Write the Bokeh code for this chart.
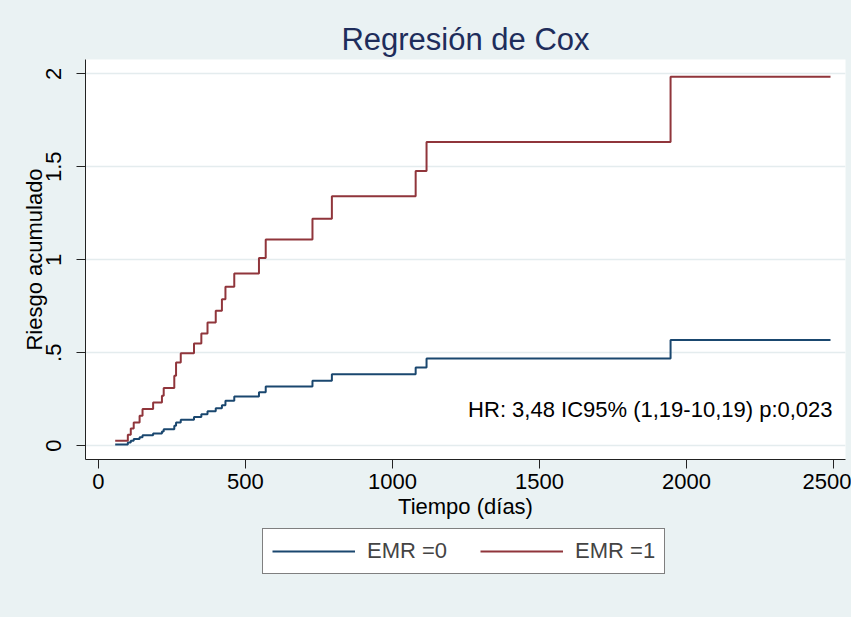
from bokeh.plotting import figure
from bokeh.layouts import column
from bokeh.models import (Range1d, FixedTicker, Legend, LegendItem, Label)
from bokeh.embed import file_html
from bokeh.resources import INLINE

# ---- data ----
event_times = [57, 100, 110, 120, 140, 150, 186, 216, 222, 258, 264, 280, 325, 350,
               371, 399, 420, 432, 462, 546, 569, 728, 794, 1079, 1116, 1946]
end_time = 2490
risk_emr0 = [0.007, 0.017, 0.027, 0.036, 0.046, 0.057, 0.066, 0.076, 0.088, 0.108,
             0.125, 0.140, 0.154, 0.170, 0.186, 0.201, 0.218, 0.242, 0.265, 0.287,
             0.319, 0.349, 0.385, 0.421, 0.469, 0.568]
risk_emr1 = [0.027, 0.059, 0.093, 0.125, 0.161, 0.197, 0.233, 0.269, 0.310, 0.376,
             0.448, 0.498, 0.550, 0.604, 0.663, 0.726, 0.788, 0.855, 0.926, 1.009,
             1.109, 1.220, 1.342, 1.477, 1.633, 1.984]
series_labels = ["EMR =0", "EMR =1"]
x_ticks = [0, 500, 1000, 1500, 2000, 2500]
y_ticks = [0, 0.5, 1, 1.5, 2]
y_tick_labels = ["0", ".5", "1", "1.5", "2"]
title_text = "Regresión de Cox"
x_title = "Tiempo (días)"
y_title = "Riesgo acumulado"
annotation_text = "HR: 3,48 IC95% (1,19-10,19) p:0,023"

FONT = "Liberation Sans"
BG = "#EAF2F3"
NAVY = "#1A476F"
MAROON = "#90353B"

W = 851
H_MAIN = 525
H_LEG = 93

p = figure(width=W, height=H_MAIN, output_backend="svg", toolbar_location=None,
           x_range=Range1d(-44, 2541), y_range=Range1d(-0.074, 2.077),
           min_border_left=85, min_border_top=59, min_border_right=6,
           min_border_bottom=H_MAIN - 459)

p.border_fill_color = BG
p.background_fill_color = "white"
p.outline_line_color = None

# title
p.title.text = title_text
p.title.align = "center"
p.title.text_font = FONT
p.title.text_font_size = "31px"
p.title.text_font_style = "normal"
p.title.text_color = "#1E2D5B"
p.title.standoff = 6

# steps
xs = event_times + [end_time]
p.step(xs, risk_emr0 + [risk_emr0[-1]], mode="after", line_color=NAVY, line_width=2)
p.step(xs, risk_emr1 + [risk_emr1[-1]], mode="after", line_color=MAROON, line_width=2)

# axes
xa = p.xaxis[0]
xa.ticker = FixedTicker(ticks=x_ticks)
ya = p.yaxis[0]
ya.ticker = FixedTicker(ticks=y_ticks)
ya.major_label_overrides = {t: l for t, l in zip(y_ticks, y_tick_labels)}
ya.major_label_orientation = "vertical"
for ax in (xa, ya):
    ax.axis_line_color = "#222222"
    ax.major_tick_line_color = "#222222"
    ax.major_tick_out = 9
    ax.major_tick_in = 0
    ax.minor_tick_line_color = None
    ax.major_label_text_font = FONT
    ax.major_label_text_font_size = "22px"
    ax.major_label_text_color = "black"
    ax.axis_label_text_font = FONT
    ax.axis_label_text_font_size = "22px"
    ax.axis_label_text_font_style = "normal"
    ax.axis_label_text_color = "black"
xa.axis_label = x_title
ya.axis_label = y_title
xa.major_label_standoff = 5
xa.axis_label_standoff = 2
ya.major_label_standoff = 15
ya.axis_label_standoff = -3

p.xgrid.grid_line_color = None
p.ygrid.grid_line_color = "#E4ECEE"
p.ygrid.grid_line_width = 1.5

# annotation
p.add_layout(Label(x=2497, y=0.195, text=annotation_text, text_align="right",
                   text_baseline="middle", text_font=FONT, text_font_size="22px",
                   text_color="black"))

# ---- legend strip below the main figure ----
q = figure(width=W, height=H_LEG, output_backend="svg", toolbar_location=None,
           x_axis_type=None, y_axis_type=None,
           x_range=Range1d(0, 1), y_range=Range1d(0, 1),
           min_border=0, margin=(-1, 0, 0, 0))
q.border_fill_color = BG
q.background_fill_color = BG
q.outline_line_color = None
nan = float("nan")
l0 = q.line([nan], [nan], line_color=NAVY, line_width=2)
l1 = q.line([nan], [nan], line_color=MAROON, line_width=2)

legend = Legend(items=[LegendItem(label=series_labels[0], renderers=[l0]),
                       LegendItem(label=series_labels[1], renderers=[l1])],
                orientation="horizontal", location=(177, H_LEG - 6 - 44),
                glyph_width=83, glyph_height=20, label_standoff=12, spacing=33,
                padding=9, margin=0,
                label_text_font=FONT, label_text_font_size="22px",
                border_line_color="black", border_line_width=1.8,
                background_fill_color="white", background_fill_alpha=1)
q.add_layout(legend, "center")

layout = column(p, q, spacing=0, background=BG)
open("out.html", "w").write(file_html(layout, INLINE))
